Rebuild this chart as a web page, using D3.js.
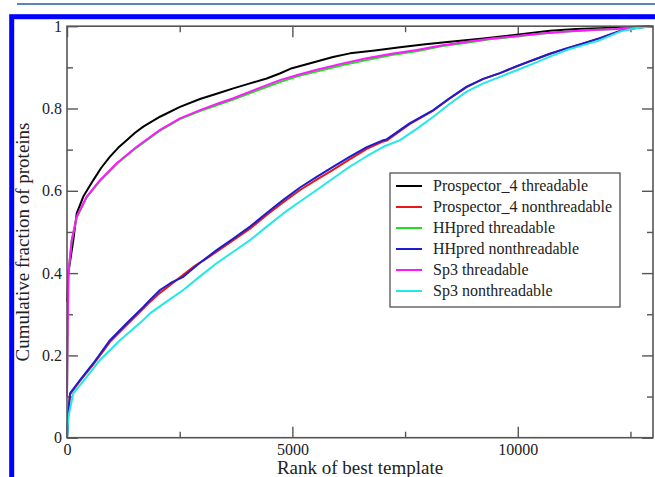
<!DOCTYPE html>
<html>
<head>
<meta charset="utf-8">
<script src="https://cdn.jsdelivr.net/npm/d3@7"></script>
<style>
  body { margin: 0; background: #fff; }
  svg { display: block; }
  text { font-family: "Liberation Serif", "DejaVu Serif", serif; fill: #222; }
</style>
</head>
<body>
<script>
// cumulative fraction of proteins vs rank of best template

var w = 655, h = 477;

// tick values
var xMajor = [0, 5000, 10000];
var xMinor = [2500, 7500, 12500];
var yMajor = [0, 0.2, 0.4, 0.6, 0.8, 1];
var yMinor = [0.1, 0.3, 0.5, 0.7, 0.9];

// series names, in legend order
var seriesNames = [
  "Prospector_4 threadable",
  "Prospector_4 nonthreadable",
  "HHpred threadable",
  "HHpred nonthreadable",
  "Sp3 threadable",
  "Sp3 nonthreadable"
];

// [rank, fraction]
var prospThread = [[0,0.33],[30,0.40],[140,0.48],[215,0.545],[362,0.586],[584,0.626],[760,0.656],[954,0.683],[1140,0.705],[1324,0.723],[1510,0.741],[1693,0.756],[2063,0.78],[2507,0.804],[2950,0.823],[3320,0.836],[3690,0.849],[4060,0.861],[4430,0.873],[4720,0.885],[4991,0.898],[5539,0.914],[5900,0.925],[6278,0.934],[6830,0.941],[7387,0.949],[7950,0.956],[8496,0.962],[9235,0.970],[9975,0.979],[10714,0.989],[11300,0.993],[11823,0.995],[12500,0.998],[13000,1]];
var prospNon = [[0,0],[30,0.06],[67,0.105],[288,0.138],[584,0.178],[954,0.233],[1324,0.274],[1693,0.314],[1841,0.330],[2063,0.352],[2300,0.372],[2507,0.390],[2800,0.415],[3050,0.432],[3320,0.452],[3690,0.480],[4060,0.508],[4430,0.541],[4799,0.572],[5170,0.602],[5539,0.627],[5900,0.651],[6278,0.677],[6650,0.702],[7017,0.720],[7091,0.722],[7600,0.762],[8126,0.795],[8500,0.825],[8866,0.852],[9235,0.872],[9605,0.886],[9975,0.902],[10344,0.918],[10714,0.933],[11084,0.946],[11450,0.958],[11823,0.971],[12100,0.982],[12341,0.991],[12700,0.997],[13000,1]];
var hhThread = [[0,0.10],[30,0.40],[104,0.478],[215,0.535],[437,0.584],[732,0.624],[1102,0.665],[1546,0.705],[2063,0.746],[2507,0.774],[2950,0.794],[3320,0.808],[3690,0.822],[4200,0.843],[4725,0.864],[5130,0.879],[5539,0.890],[6100,0.905],[6648,0.918],[7200,0.930],[7757,0.939],[8300,0.951],[8866,0.960],[9420,0.969],[9975,0.975],[10530,0.982],[11084,0.987],[11640,0.991],[12193,0.993],[12600,0.997],[13000,1]];
var hhNon = [[0,0],[30,0.06],[67,0.108],[288,0.140],[584,0.181],[954,0.237],[1324,0.278],[1693,0.318],[1841,0.335],[2063,0.359],[2300,0.376],[2580,0.391],[2950,0.425],[3320,0.456],[3690,0.484],[4060,0.513],[4430,0.546],[4799,0.578],[5170,0.608],[5539,0.634],[5900,0.658],[6278,0.683],[6650,0.706],[7017,0.723],[7091,0.725],[7600,0.764],[8126,0.796],[8500,0.826],[8866,0.853],[9235,0.872],[9605,0.886],[9975,0.903],[10344,0.918],[10714,0.933],[11084,0.946],[11450,0.958],[11823,0.971],[12100,0.982],[12341,0.991],[12700,0.997],[13000,1]];
var sp3Thread = [[0,0.10],[30,0.40],[104,0.48],[215,0.537],[437,0.586],[732,0.626],[1102,0.667],[1546,0.707],[2063,0.748],[2507,0.776],[2950,0.796],[3320,0.811],[3690,0.825],[4200,0.847],[4725,0.869],[5130,0.882],[5539,0.894],[6100,0.909],[6648,0.922],[7200,0.933],[7757,0.942],[8300,0.953],[8866,0.962],[9420,0.970],[9975,0.976],[10530,0.982],[11084,0.987],[11640,0.991],[12193,0.993],[12600,0.997],[13000,1]];
var sp3Non = [[0,0],[30,0.05],[140,0.108],[437,0.148],[732,0.189],[1176,0.237],[1693,0.286],[1841,0.302],[2200,0.330],[2580,0.359],[2950,0.392],[3320,0.424],[3690,0.452],[4060,0.480],[4430,0.513],[4799,0.545],[5170,0.574],[5539,0.602],[5900,0.630],[6278,0.659],[6650,0.684],[7017,0.707],[7387,0.723],[7750,0.750],[8126,0.780],[8500,0.812],[8866,0.841],[9235,0.861],[9605,0.877],[9975,0.893],[10344,0.909],[10714,0.926],[11084,0.942],[11450,0.954],[11823,0.966],[12267,0.987],[12600,0.995],[13000,1]];

var seriesData = [prospThread, prospNon, hhThread, hhNon, sp3Thread, sp3Non];
var colors = ["#000000", "#e81818", "#22dd22", "#1c1cd0", "#ff18ff", "#22e8e8"];

var svg = d3.select("body").append("svg")
  .attr("width", w)
  .attr("height", h);

// thin rule at the very top and the blue frame
svg.append("line")
  .attr("x1", 17).attr("x2", w)
  .attr("y1", 4).attr("y2", 4)
  .style("stroke", "#1f5fa8")
  .style("stroke-width", 1.5);

svg.append("rect")
  .attr("x", 11.7).attr("y", 16.7)
  .attr("width", 700).attr("height", 500)
  .style("fill", "#fff")
  .style("stroke", "#0000ff")
  .style("stroke-width", 5);

var x = d3.scaleLinear().domain([0, 13000]).range([67, 653]);
var y = d3.scaleLinear().domain([0, 1]).range([437.7, 26.2]);

var axisColor = "#555";

function styleAxis(g) {
  g.select(".domain").remove();
  g.selectAll(".tick line").style("stroke", axisColor).style("stroke-width", 1.4);
  g.selectAll(".tick text")
    .style("font-family", "'Liberation Serif', serif")
    .style("font-size", "16px")
    .style("fill", "#222");
}

// bottom axis with labels
svg.append("g")
  .attr("transform", "translate(0," + y(0) + ")")
  .call(d3.axisBottom(x).tickValues(xMajor).tickSize(-11).tickPadding(6).tickFormat(d3.format("d")))
  .call(styleAxis);
svg.append("g")
  .attr("transform", "translate(0," + y(0) + ")")
  .call(d3.axisBottom(x).tickValues(xMinor).tickSize(-6).tickFormat(""))
  .call(styleAxis);
// top axis
svg.append("g")
  .attr("transform", "translate(0," + y(1) + ")")
  .call(d3.axisTop(x).tickValues(xMajor).tickSize(-11).tickFormat(""))
  .call(styleAxis);
svg.append("g")
  .attr("transform", "translate(0," + y(1) + ")")
  .call(d3.axisTop(x).tickValues(xMinor).tickSize(-6).tickFormat(""))
  .call(styleAxis);
// left axis with labels
svg.append("g")
  .attr("transform", "translate(" + x(0) + ",0)")
  .call(d3.axisLeft(y).tickValues(yMajor).tickSize(-11).tickPadding(5).tickFormat(d3.format("~g")))
  .call(styleAxis);
svg.append("g")
  .attr("transform", "translate(" + x(0) + ",0)")
  .call(d3.axisLeft(y).tickValues(yMinor).tickSize(-6).tickFormat(""))
  .call(styleAxis);
// right axis
svg.append("g")
  .attr("transform", "translate(" + x(13000) + ",0)")
  .call(d3.axisRight(y).tickValues(yMajor).tickSize(-11).tickFormat(""))
  .call(styleAxis);
svg.append("g")
  .attr("transform", "translate(" + x(13000) + ",0)")
  .call(d3.axisRight(y).tickValues(yMinor).tickSize(-6).tickFormat(""))
  .call(styleAxis);

// curves
var line = d3.line()
  .x(function(d){ return x(d[0]); })
  .y(function(d){ return y(d[1]); });

svg.selectAll(".curve")
  .data(seriesData)
  .enter()
  .append("path")
  .attr("class", "curve")
  .attr("d", line)
  .style("fill", "none")
  .style("stroke", function(d, i){ return colors[i]; })
  .style("stroke-width", 2)
  .style("stroke-linejoin", "round");

// plot frame
svg.append("rect")
  .attr("x", x(0)).attr("y", y(1))
  .attr("width", x(13000) - x(0))
  .attr("height", y(0) - y(1))
  .style("fill", "none")
  .style("stroke", axisColor)
  .style("stroke-width", 1.6);

// axis titles
svg.append("text")
  .attr("x", 360)
  .attr("y", 474)
  .attr("text-anchor", "middle")
  .style("font-size", "19px")
  .text("Rank of best template");

svg.append("text")
  .attr("transform", "translate(29,242) rotate(-90)")
  .attr("text-anchor", "middle")
  .style("font-size", "19px")
  .text("Cumulative fraction of proteins");

// legend
var legend = svg.append("g").attr("transform", "translate(390,173)");
legend.append("rect")
  .attr("width", 230).attr("height", 134)
  .style("fill", "#fff")
  .style("stroke", "#444")
  .style("stroke-width", 1.2);

var rows = legend.selectAll(".row")
  .data(seriesNames)
  .enter()
  .append("g")
  .attr("class", "row")
  .attr("transform", function(d, i){ return "translate(0," + (13 + i * 21) + ")"; });

rows.append("line")
  .attr("x1", 6).attr("x2", 32)
  .style("stroke", function(d, i){ return colors[i]; })
  .style("stroke-width", 2);

rows.append("text")
  .attr("x", 43)
  .attr("y", 5)
  .style("font-size", "16px")
  .text(function(d){ return d; });
</script>
</body>
</html>
